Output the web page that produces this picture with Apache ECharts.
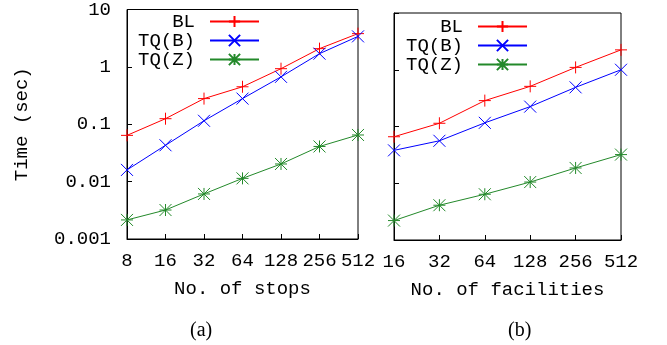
<!DOCTYPE html>
<html><head><meta charset="utf-8">
<script src="https://cdn.jsdelivr.net/npm/echarts@6/dist/echarts.min.js"></script>
<style>html,body{margin:0;padding:0;background:#fff}#c{width:667px;height:345px}</style>
</head><body><div id="c"></div>
<script>
const stops = ['8','16','32','64','128','256','512'];
const facilities = ['16','32','64','128','256','512'];
const seriesNames = ['BL','TQ(B)','TQ(Z)'];
const stopsBL  = [0.064, 0.125, 0.28, 0.45, 0.93, 2.08, 3.8];
const stopsTQB = [0.016, 0.043, 0.115, 0.28, 0.67, 1.7, 3.4];
const stopsTQZ = [0.00215, 0.0032, 0.0061, 0.0114, 0.0203, 0.041, 0.065];
const facBL  = [0.066, 0.114, 0.286, 0.51, 1.1, 2.24];
const facTQB = [0.038, 0.056, 0.116, 0.224, 0.49, 1.0];
const facTQZ = [0.0022, 0.0041, 0.0064, 0.0105, 0.0186, 0.032];
const yTicks = ['0.001','0.01','0.1','1','10'];
const captions = ['(a)','(b)'];

const colors = ['#ff0000','#0000ff','#23892a'];
const symbols = [
  'path://M5,0L5,10M0,5L10,5',
  'path://M0,0L10,10M10,0L0,10',
  'path://M5,0L5,10M0,5L10,5M0,0L10,10M10,0L0,10'
];
const mono = 'Liberation Mono';
const fs = 19;

function yLabel(v){
  const e = Math.round(Math.log10(v));
  const s = yTicks.find(t => Math.round(Math.log10(parseFloat(t))) === e);
  return s || '';
}

function mk(name, data, i, gi){
  return {
    name: name, type: 'line', xAxisIndex: gi, yAxisIndex: gi, data: data,
    symbol: symbols[i], symbolSize: 12, clip: false,
    lineStyle: {color: colors[i], width: 1},
    itemStyle: {color: colors[i], borderColor: colors[i], borderWidth: 1},
    emphasis: {disabled: true}
  };
}

const xAxisCommon = {
  type: 'category', boundaryGap: false,
  axisLine: {lineStyle: {color: '#000', width: 1}},
  axisTick: {inside: true, length: 5, lineStyle: {color: '#000'}},
  axisLabel: {fontFamily: mono, fontSize: fs, color: '#000', margin: 12, interval: 0},
  nameLocation: 'middle', nameGap: 40,
  nameTextStyle: {fontFamily: mono, fontSize: fs, color: '#000'},
  splitLine: {show: false}
};
const yAxisCommon = {
  type: 'log', logBase: 10, min: 0.001, max: 10,
  axisLine: {show: true, lineStyle: {color: '#000', width: 1}},
  axisTick: {show: true, inside: true, length: 5, lineStyle: {color: '#000'}},
  axisLabel: {fontFamily: mono, fontSize: fs, color: '#000', margin: 16, formatter: yLabel},
  minorTick: {show: false},
  splitLine: {show: false}
};
function legendFmt(n){ return n.padStart(5, ' '); }

const option = {
  animation: false,
  backgroundColor: '#fff',
  title: [
    {text: captions[0], left: 185, top: 316, textStyle: {fontFamily: 'Liberation Serif', fontSize: 20, fontWeight: 'normal', color: '#000'}},
    {text: captions[1], left: 503, top: 316, textStyle: {fontFamily: 'Liberation Serif', fontSize: 20, fontWeight: 'normal', color: '#000'}}
  ],
  grid: [
    {left: 127, top: 8, width: 231, height: 231, show: true, borderColor: '#000', borderWidth: 1},
    {left: 394, top: 13, width: 227, height: 227, show: true, borderColor: '#000', borderWidth: 1}
  ],
  xAxis: [
    Object.assign({}, xAxisCommon, {gridIndex: 0, data: stops, name: 'No. of stops'}),
    Object.assign({}, xAxisCommon, {gridIndex: 1, data: facilities, name: 'No. of facilities'})
  ],
  yAxis: [
    Object.assign({}, yAxisCommon, {gridIndex: 0, name: 'Time (sec)', nameLocation: 'middle', nameGap: 96,
      nameTextStyle: {fontFamily: mono, fontSize: fs, color: '#000'}}),
    Object.assign({}, yAxisCommon, {gridIndex: 1, axisLabel: {show: false}})
  ],
  legend: [
    {data: seriesNames.map(n => ({name: n})), orient: 'vertical', align: 'right', left: 133, top: 7,
     itemWidth: 49, itemHeight: 14, itemGap: 0, formatter: legendFmt, selectedMode: false,
     textStyle: {fontFamily: mono, fontSize: fs, color: '#000', lineHeight: 18.5, padding: [0, 10, 0, 0]}},
    {data: seriesNames.map(n => ({name: n})), orient: 'vertical', align: 'right', left: 401, top: 12,
     itemWidth: 49, itemHeight: 14, itemGap: 0, formatter: legendFmt, selectedMode: false,
     textStyle: {fontFamily: mono, fontSize: fs, color: '#000', lineHeight: 18, padding: [0, 10, 0, 0]}}
  ],
  series: [
    mk('BL', stopsBL, 0, 0), mk('TQ(B)', stopsTQB, 1, 0), mk('TQ(Z)', stopsTQZ, 2, 0),
    mk('BL', facBL, 0, 1), mk('TQ(B)', facTQB, 1, 1), mk('TQ(Z)', facTQZ, 2, 1)
  ]
};
const chart = echarts.init(document.getElementById('c'), null, {renderer: 'canvas'});
chart.setOption(option);
</script></body></html>
